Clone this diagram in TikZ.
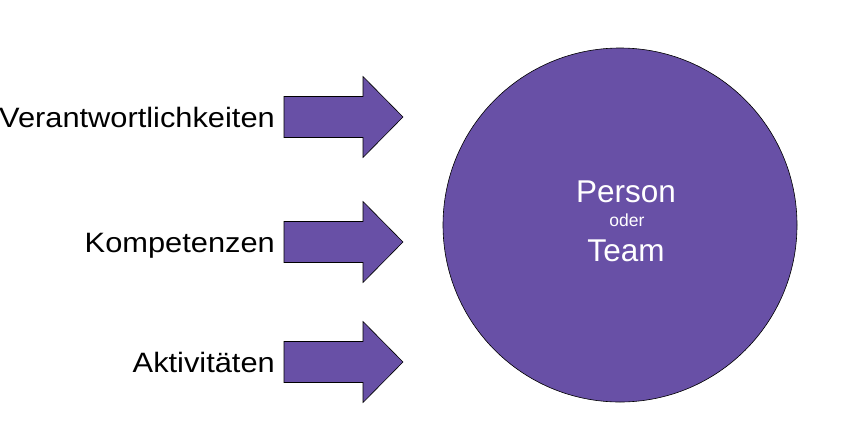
\documentclass[tikz,border=0pt]{standalone}
\usepackage{fontspec}
\setmainfont{Liberation Sans}
\newfontfamily\labelfont[FakeStretch=1.1]{Liberation Sans}
\usetikzlibrary{positioning}
\definecolor{violett}{RGB}{104,80,166}

\begin{document}
\begin{tikzpicture}[x=1pt, y=-1pt,
                    pfeil/.style={draw=black, fill=violett, line width=0.6pt},
                    beschriftung/.style={anchor=base east, inner sep=0pt,
                        font=\labelfont\fontsize{28}{34}\selectfont},
                    innen/.style={anchor=base, inner sep=0pt, text=white}]
    \useasboundingbox (0,0) rectangle (842,442);
    \node[circle, draw, fill=violett, line width=0.6pt,
          minimum size=354pt, inner sep=0pt] (team) at (620,225) {};
    \foreach \y/\name/\txt in {117/verant/Verantwortlichkeiten,
                               242/kompet/Kompetenzen,
                               362/aktiv/Aktivitäten} {
        \draw[pfeil] (284,\y-20.5) -- (363,\y-20.5) -- (363,\y-40.5) -- (403,\y)
            -- (363,\y+40.5) -- (363,\y+20.5) -- (284,\y+20.5) -- cycle;
        \node[beschriftung] (\name) at (275,\y+10.5) {\txt};
    }
    \node[innen, font=\fontsize{31.5}{36}\selectfont] (person) at (626,202) {Person};
    \node[innen, font=\fontsize{17.5}{20}\selectfont] (oder) at (627,226.5) {oder};
    \node[innen, font=\fontsize{31.5}{36}\selectfont] (teamtext) at (626,261.5) {Team};
\end{tikzpicture}
\end{document}
